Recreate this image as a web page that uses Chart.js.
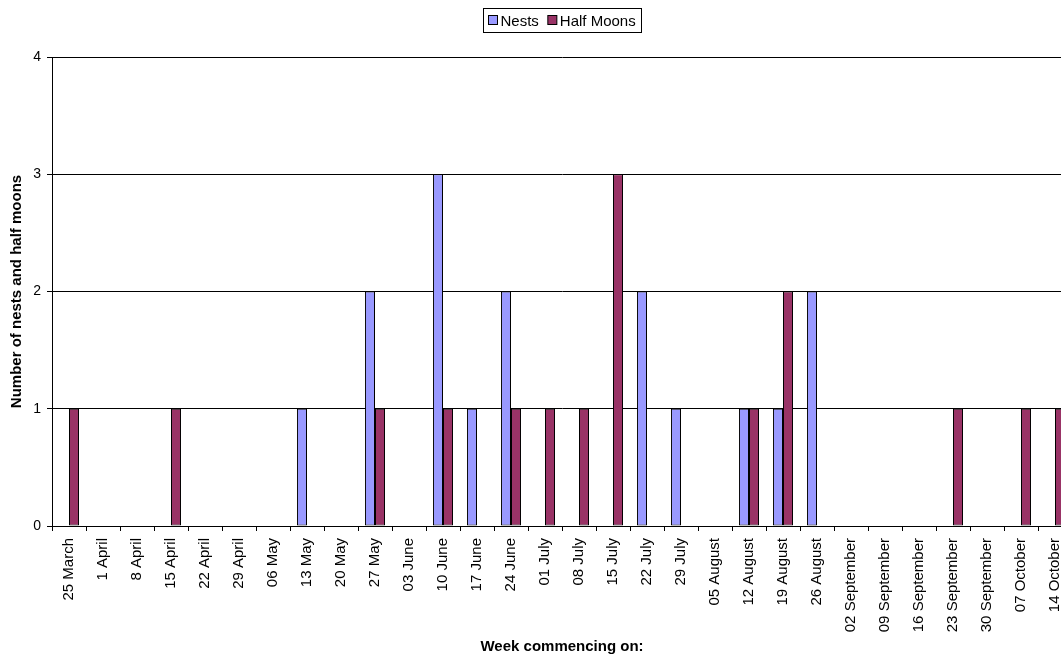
<!DOCTYPE html>
<html>
<head>
<meta charset="utf-8">
<title>Nests and Half Moons per week</title>
<script src="https://cdn.jsdelivr.net/npm/chart.js@4/dist/chart.umd.min.js"></script>
<style>
  html, body { margin: 0; padding: 0; background: #fff; overflow: hidden; }
  #wrap { width: 1061px; height: 656px; overflow: hidden; position: relative; }
  canvas { display: block; }
</style>
</head>
<body>
<div id="wrap"><canvas id="chart" width="1123" height="656"></canvas></div>
<script>
// Weeks of the survey season
const weeks = [
  '25 March', '1 April', '8 April', '15 April', '22 April', '29 April',
  '06 May', '13 May', '20 May', '27 May', '03 June', '10 June',
  '17 June', '24 June', '01 July', '08 July', '15 July', '22 July',
  '29 July', '05 August', '12 August', '19 August', '26 August',
  '02 September', '09 September', '16 September', '23 September',
  '30 September', '07 October', '14 October'
];

// Counts recorded each week
const nests = [
  0, 0, 0, 0, 0, 0, 0, 1, 0, 2, 0, 3, 1, 2, 0,
  0, 0, 2, 1, 0, 1, 1, 2, 0, 0, 0, 0, 0, 0, 0
];
const halfMoons = [
  1, 0, 0, 1, 0, 0, 0, 0, 0, 1, 0, 1, 0, 1, 1,
  1, 3, 0, 0, 0, 1, 2, 0, 0, 0, 0, 1, 0, 1, 1
];

const yTicks = [0, 1, 2, 3, 4];

const FONT = "'Liberation Sans', Arial, Helvetica, sans-serif";

// Boxed legend drawn above the plot, centred on the chart area
const boxedLegend = {
  id: 'boxedLegend',
  afterDraw(chart) {
    const ctx = chart.ctx;
    const area = chart.chartArea;
    const items = chart.data.datasets.map(d => ({ text: d.label, color: d.backgroundColor }));
    ctx.save();
    ctx.font = '15px ' + FONT;
    const marker = 9, gapAfterMarker = 3, gapBetween = 9, padL = 5, padR = 6;
    let total = padL + padR;
    items.forEach((it, i) => {
      it.w = ctx.measureText(it.text).width;
      total += marker + gapAfterMarker + it.w + (i < items.length - 1 ? gapBetween : 0);
    });
    const cx = (area.left + area.right) / 2;
    const left = Math.round(cx - total / 2) + 0.5;
    const top = 8.5, h = 24;
    ctx.strokeStyle = '#000';
    ctx.lineWidth = 1;
    ctx.strokeRect(left, top, Math.round(total), h);
    let x = left + padL;
    ctx.textBaseline = 'alphabetic';
    ctx.textAlign = 'left';
    items.forEach(it => {
      ctx.fillStyle = it.color;
      ctx.fillRect(x, 15.5, marker, marker);
      ctx.strokeStyle = '#000';
      ctx.strokeRect(x, 15.5, marker, marker);
      x += marker + gapAfterMarker;
      ctx.fillStyle = '#000';
      ctx.fillText(it.text, x, 26);
      x += it.w + gapBetween;
    });
    ctx.restore();
  }
};

const hideZero = c => (c.raw ? 1 : 0);

new Chart(document.getElementById('chart'), {
  type: 'bar',
  data: {
    labels: weeks,
    datasets: [
      {
        label: 'Nests',
        data: nests,
        backgroundColor: '#9999FF',
        borderColor: '#000',
        borderWidth: hideZero,
        borderSkipped: false,
        categoryPercentage: 0.59,
        barPercentage: 1.0
      },
      {
        label: 'Half Moons',
        data: halfMoons,
        backgroundColor: '#993366',
        borderColor: '#000',
        borderWidth: hideZero,
        borderSkipped: false,
        categoryPercentage: 0.59,
        barPercentage: 1.0
      }
    ]
  },
  options: {
    responsive: false,
    animation: false,
    devicePixelRatio: 1,
    layout: { padding: { top: 57, right: 51, bottom: 0, left: 0 } },
    plugins: {
      legend: { display: false },
      tooltip: { enabled: false }
    },
    scales: {
      x: {
        offset: true,
        grid: {
          offset: true,
          drawOnChartArea: false,
          drawTicks: true,
          tickLength: 5,
          tickColor: '#000',
          color: '#000'
        },
        border: { display: true, color: '#000', width: 1 },
        ticks: {
          autoSkip: false,
          minRotation: 90,
          maxRotation: 90,
          padding: 7,
          color: '#000',
          font: { family: FONT, size: 15 }
        },
        title: {
          display: true,
          text: 'Week commencing on:',
          color: '#000',
          font: { family: FONT, size: 15, weight: 'bold' },
          padding: { top: 0, bottom: 0 }
        },
        afterFit(scale) { scale.height = 130; }
      },
      y: {
        min: 0,
        max: 4,
        afterBuildTicks(scale) { scale.ticks = yTicks.map(v => ({ value: v })); },
        grid: {
          color: '#000',
          tickColor: '#000',
          tickLength: 5,
          drawTicks: true
        },
        border: { display: true, color: '#000', width: 1 },
        ticks: {
          padding: 6,
          color: '#000',
          font: { family: FONT, size: 14 }
        },
        title: {
          display: true,
          text: 'Number of nests and half moons',
          color: '#000',
          font: { family: FONT, size: 15, weight: 'bold' },
          padding: { top: 8, bottom: 0 }
        },
        afterFit(scale) { scale.width = 52; }
      }
    }
  },
  plugins: [boxedLegend]
});
</script>
</body>
</html>
